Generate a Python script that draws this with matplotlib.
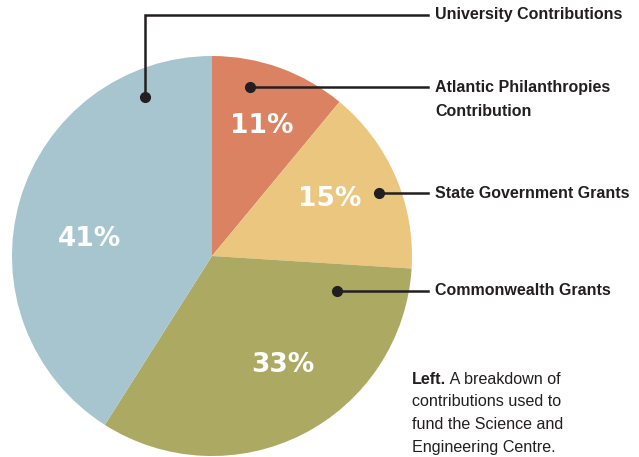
import numpy as np
import matplotlib.pyplot as plt

# Daten
labels = ["Atlantic Philanthropies\nContribution", "State Government Grants",
          "Commonwealth Grants", "University Contributions"]
values = [11, 15, 33, 41]
pct_text = ["11%", "15%", "33%", "41%"]
colors = ["#DB8262", "#EAC67E", "#ABA962", "#A6C5CE"]

# Layout (Pixel, y nach oben)
W, H = 639, 457
cx, cy, R = 212, 457 - 256, 200
ink = "#231F20"
label_font = ['Liberation Sans', 'DejaVu Sans']

fig = plt.figure(figsize=(W / 100, H / 100), dpi=100)
ax = fig.add_axes([0, 0, 1, 1])

wedges, _ = ax.pie(values, colors=colors, startangle=90, counterclock=False,
                   center=(cx, cy), radius=R, frame=True,
                   wedgeprops=dict(linewidth=0))
ax.set_xlim(0, W)
ax.set_ylim(0, H)
ax.set_aspect('equal')
ax.axis('off')

# Prozent-Beschriftungen (Winkel, Radius)
pct_pos = [(69, 139), (26, 131), (-57, 130), (172, 124)]
for txt, (a, r) in zip(pct_text, pct_pos):
    x = cx + r * np.cos(np.radians(a))
    y = cy + r * np.sin(np.radians(a))
    ax.text(x, y, txt, color="white", fontsize=19, fontweight='bold',
            family='DejaVu Sans', ha='center', va='center')

# Führungslinien: Punkt (Winkel, Radius), Text-y
dot_pos = [(77.3, 173), (20.7, 178), (-15.6, 130), (112.8, 172)]
text_y = [H - 88, H - 194, H - 293, H - 15]
line_end = 428
text_x = 435
for lab, (a, r), ty in zip(labels, dot_pos, text_y):
    dx = cx + r * np.cos(np.radians(a))
    dy = cy + r * np.sin(np.radians(a))
    if abs(dy - ty) > 3:
        ax.plot([dx, dx, line_end], [dy, ty, ty], color=ink, lw=1.8,
                solid_joinstyle='miter')
    else:
        ax.plot([dx, line_end], [dy, dy], color=ink, lw=1.8)
        ty = dy
    ax.plot(dx, dy, 'o', color=ink, ms=7)
    for i, line in enumerate(lab.split('\n')):
        ax.text(text_x, ty - 24 * i, line, color=ink, fontsize=11.5,
                fontweight='bold', family=label_font, ha='left', va='center')

# Bildunterschrift
cap_x = 412
cap_y = H - 379
t = ax.text(cap_x, cap_y, "Left.", color=ink, fontsize=11.6,
            fontweight='bold', family=label_font, ha='left', va='center')
ax.annotate(" A breakdown of", xy=(1, 0.5), xycoords=t, color=ink,
            fontsize=11.6, family=label_font, ha='left', va='center')
rest = ["contributions used to", "fund the Science and",
        "Engineering Centre."]
for i, line in enumerate(rest):
    ax.text(cap_x, cap_y - 22.8 * (i + 1), line, color=ink, fontsize=11.6,
            family=label_font, ha='left', va='center')

fig.savefig("out.png", dpi=100)
